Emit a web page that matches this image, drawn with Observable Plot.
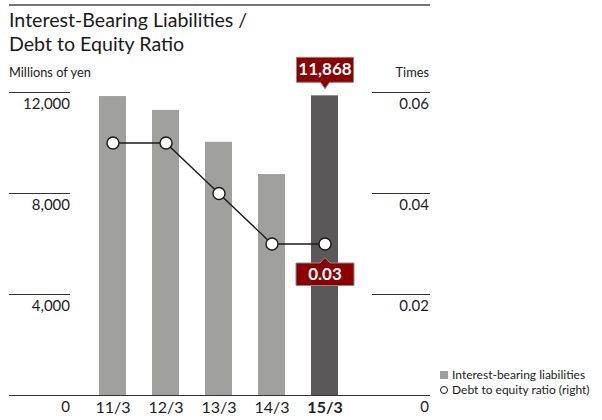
<!DOCTYPE html>
<html>
<head>
<meta charset="utf-8">
<script src="https://cdn.jsdelivr.net/npm/d3@7"></script>
<script src="https://cdn.jsdelivr.net/npm/@observablehq/plot@0.6"></script>
<style>
  html, body { margin: 0; padding: 0; background: #fff; }
  body { width: 602px; height: 420px; position: relative; overflow: hidden; font-family: Lato, "Open Sans", sans-serif; color: #222; }
  .abs { position: absolute; white-space: nowrap; }
  #topline { left: 9px; top: 4px; width: 421px; height: 2px; background: #777; }
  #title { left: 9px; top: 8.2px; font-size: 19.6px; line-height: 24px; color: #1a1a1a; }
  #yl { left: 9px; top: 65px; font-size: 12.8px; line-height: 15px; }
  #yr { left: 329px; width: 100px; text-align: right; top: 65px; font-size: 12.8px; line-height: 15px; }
  #chart { left: 0; top: 60px; }
  #legend { left: 440px; top: 368px; font-size: 12px; line-height: 14.5px; color: #222; }
  #legend .row { display: flex; align-items: center; height: 14.5px; }
  #legend .sw { width: 8px; height: 8px; margin-right: 4px; box-sizing: border-box; flex: none; }
</style>
</head>
<body>
<div class="abs" id="topline"></div>
<div class="abs" id="title">Interest-Bearing Liabilities /<br>Debt to Equity Ratio</div>
<div class="abs" id="yl">Millions of yen</div>
<div class="abs" id="yr">Times</div>
<div class="abs" id="chart"></div>
<div class="abs" id="legend"></div>
<script>
// ---- data ----
const years = ["11/3", "12/3", "13/3", "14/3", "15/3"];
const liabilities = [11840, 11290, 10030, 8750, 11868];   // millions of yen (left)
const ratios = [0.05, 0.05, 0.04, 0.03, 0.03];            // times (right)
const leftTicks = [0, 4000, 8000, 12000];
const rightTicks = [0, 0.02, 0.04, 0.06];
const highlightYear = "15/3";
const liabilityLabel = "11,868";
const ratioLabel = "0.03";
const legendLabels = ["Interest-bearing liabilities", "Debt to equity ratio (right)"];

const RATIO_SCALE = 12000 / 0.06; // right axis maps 0.06 -> 12,000
const data = years.map((year, i) => ({year, debt: liabilities[i], ratio: ratios[i]}));
const hl = data.filter(d => d.year === highlightYear);

const barGray = "#a0a09f", barDark = "#5a5859", calloutRed = "#8c0000";

// callout shapes drawn relative to the anchor point
const calloutDown = { // box above point, pointer downward
  draw(ctx) {
    ctx.moveTo(-28.5, -38.5); ctx.lineTo(28.5, -38.5); ctx.lineTo(28.5, -13.5);
    ctx.lineTo(4.5, -13.5); ctx.lineTo(0, -7); ctx.lineTo(-4.5, -13.5);
    ctx.lineTo(-28.5, -13.5); ctx.closePath();
  }
};
const calloutUp = { // box below point, pointer upward
  draw(ctx) {
    ctx.moveTo(-29, 19); ctx.lineTo(-5, 19); ctx.lineTo(0, 13.5); ctx.lineTo(5, 19);
    ctx.lineTo(29, 19); ctx.lineTo(29, 41.5); ctx.lineTo(-29, 41.5); ctx.closePath();
  }
};

const fontFamily = "Lato, 'Open Sans', sans-serif";

const chart = Plot.plot({
  width: 602,
  height: 360,
  marginTop: 32,
  marginBottom: 25,
  marginLeft: 72,
  marginRight: 237,
  style: {fontFamily, color: "#222", background: "transparent", overflow: "visible"},
  x: {domain: years, padding: 0.5, axis: null},
  y: {domain: [0, 12000], axis: null},
  marks: [
    // bars
    Plot.barY(data.filter(d => d.year !== highlightYear), {x: "year", y: "debt", fill: barGray}),
    Plot.barY(hl, {x: "year", y: "debt", fill: barDark}),
    // baseline
    Plot.ruleY([0], {stroke: "#333", strokeWidth: 1, insetLeft: -63, insetRight: -65}),
    // left tick lines
    Plot.ruleY(leftTicks.filter(d => d > 0), {stroke: "#333", strokeWidth: 1, insetLeft: -63, insetRight: 295}),
    // right tick lines
    Plot.ruleY(rightTicks.filter(d => d > 0), {y: d => d * RATIO_SCALE, stroke: "#333", strokeWidth: 1, insetLeft: 300, insetRight: -65}),
    // left tick labels
    Plot.text(leftTicks, {y: d => d, text: d => d3.format(",")(d), frameAnchor: "left", textAnchor: "end", dx: -2.5, dy: 11.5, fontSize: 15, fill: "#222"}),
    // right tick labels
    Plot.text(rightTicks, {y: d => d * RATIO_SCALE, text: d => d === 0 ? "0" : d.toFixed(2), frameAnchor: "right", textAnchor: "end", dx: 63.5, dy: 11.5, fontSize: 15, fill: "#222"}),
    // x labels
    Plot.text(data.filter(d => d.year !== highlightYear), {x: "year", text: "year", frameAnchor: "bottom", dy: 17, fontSize: 16, fill: "#222"}),
    Plot.text(hl, {x: "year", text: "year", frameAnchor: "bottom", dy: 17, fontSize: 16, fontWeight: "bold", fill: "#222"}),
    // ratio line
    Plot.line(data, {x: "year", y: d => d.ratio * RATIO_SCALE, stroke: "#1a1a1a", strokeWidth: 1.4}),
    Plot.dot(data, {x: "year", y: d => d.ratio * RATIO_SCALE, r: 6, fill: "white", stroke: "#1a1a1a", strokeWidth: 1.4}),
    // callouts
    Plot.dot(hl, {x: "year", y: "debt", symbol: calloutDown, fill: calloutRed, stroke: "#8a8a8a", strokeWidth: 1}),
    Plot.text(hl, {x: "year", y: "debt", text: () => liabilityLabel, dy: -26, fill: "white", fontSize: 17, fontWeight: "bold"}),
    Plot.dot(hl, {x: "year", y: d => d.ratio * RATIO_SCALE, symbol: calloutUp, fill: calloutRed, stroke: "#8a8a8a", strokeWidth: 1}),
    Plot.text(hl, {x: "year", y: d => d.ratio * RATIO_SCALE, text: () => ratioLabel, dy: 30.5, fill: "white", fontSize: 17, fontWeight: "bold"})
  ]
});
document.getElementById("chart").appendChild(chart);

// legend
const legend = document.getElementById("legend");
legend.innerHTML =
  `<div class="row"><span class="sw" style="background:${barGray}"></span>${legendLabels[0]}</div>` +
  `<div class="row"><span class="sw" style="border:1.5px solid #111;border-radius:50%;background:#fff"></span>${legendLabels[1]}</div>`;
</script>
</body>
</html>
